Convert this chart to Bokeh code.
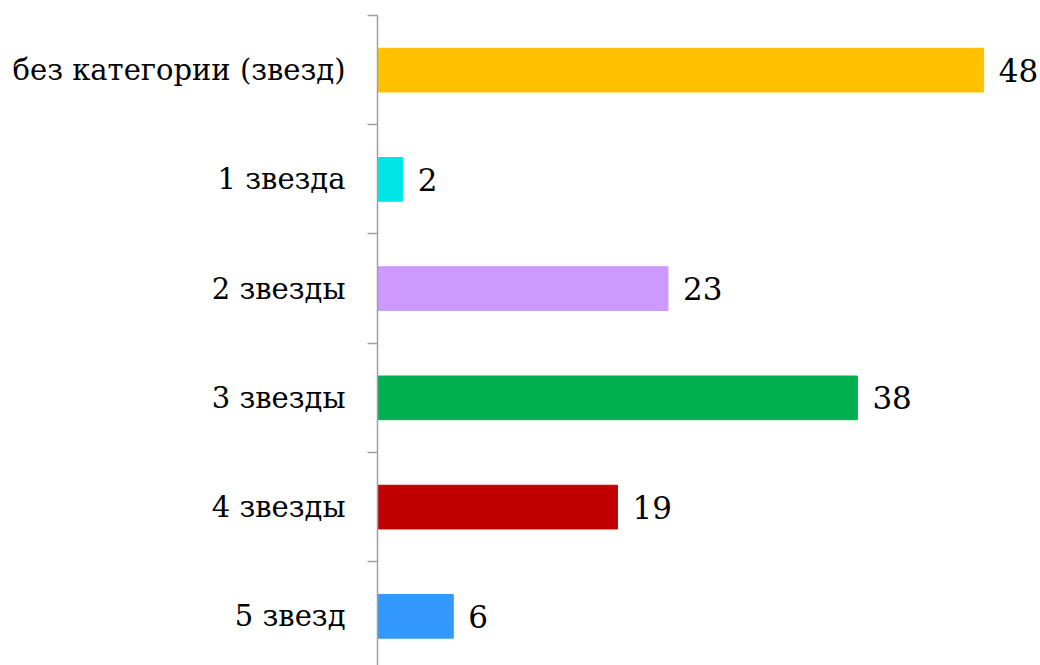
from bokeh.plotting import figure
from bokeh.models import FixedTicker, ColumnDataSource, Range1d
from bokeh.core.properties import value
from bokeh.embed import file_html
from bokeh.resources import INLINE

categories = ["без категории (звезд)", "1 звезда", "2 звезды", "3 звезды", "4 звезды", "5 звезд"]
counts = [48, 2, 23, 38, 19, 6]
colors = ["#FFC000", "#00E5E5", "#CC99FF", "#00B050", "#C00000", "#3399FF"]

FONT = "DejaVu Serif"

n = len(categories)
ypos = [n - 0.5 - i for i in range(n)]
labels = [str(c) for c in counts]

src = ColumnDataSource(dict(y=ypos, v=counts, c=colors, t=labels))

p = figure(width=1040, height=665, output_backend="svg", toolbar_location=None,
           x_range=Range1d(0, 52.5), y_range=Range1d(0.05, n),
           min_border_left=377, min_border_top=15, min_border_bottom=0, min_border_right=0,
           x_axis_location=None)
p.outline_line_color = None
p.xgrid.visible = False
p.ygrid.visible = False
p.background_fill_color = "white"

p.hbar(y="y", left=0, right="v", height=0.4, color="c", source=src)
p.text(x="v", y="y", text="t", source=src, x_offset=15, text_baseline="middle",
       text_align="left", text_font=value(FONT), text_font_size="31px",
       text_color="black")

ax = p.yaxis[0]
ax.ticker = FixedTicker(ticks=ypos, minor_ticks=list(range(0, n + 1)))
ax.major_label_overrides = {y: cat for y, cat in zip(ypos, categories)}
ax.major_tick_line_color = None
ax.major_tick_out = 0
ax.major_tick_in = 0
ax.minor_tick_out = 10
ax.minor_tick_in = 0
ax.minor_tick_line_color = "#A0A0A0"
ax.minor_tick_line_width = 1.5
ax.axis_line_color = "#A0A0A0"
ax.axis_line_width = 1.5
ax.major_label_standoff = 22
ax.major_label_text_font = FONT
ax.major_label_text_font_size = "29px"
ax.major_label_text_color = "black"

open("out.html", "w").write(file_html(p, INLINE))
